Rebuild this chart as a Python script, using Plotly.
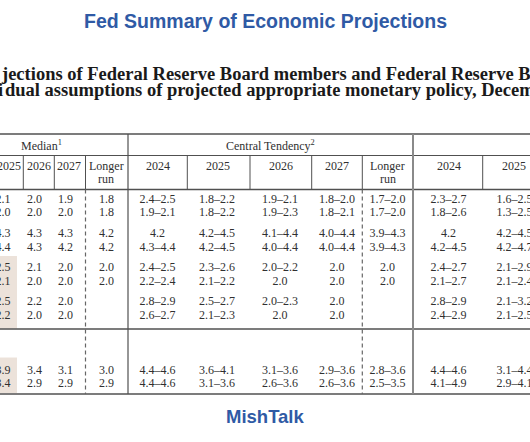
import plotly.graph_objects as go

# ---------------- data ----------------
title_text = "Fed Summary of Economic Projections"
subtitle_line1 = "jections of Federal Reserve Board members and Federal Reserve Bank presidents, under their"
subtitle_line2_pre = "indivi"
subtitle_line2 = "dual assumptions of projected appropriate monetary policy, December 2024"
watermark = "MishTalk"

group_labels = ["Median<sup>1</sup>", "Central Tendency<sup>2</sup>"]

median_years = ["2025", "2026", "2027", "Longer"]
ct_years = ["2024", "2025", "2026", "2027", "Longer"]
range_years = ["2024", "2025"]
header_line2 = ["", "", "", "run", "", "", "", "", "run", "", ""]

median_2025 = ["2.1", "2.0", "4.3", "4.4", "2.5", "2.1", "2.5", "2.2", "3.9", "3.4"]
median_2026 = ["2.0", "2.0", "4.3", "4.3", "2.1", "2.0", "2.2", "2.0", "3.4", "2.9"]
median_2027 = ["1.9", "2.0", "4.3", "4.2", "2.0", "2.0", "2.0", "2.0", "3.1", "2.9"]
median_lr = ["1.8", "1.8", "4.2", "4.2", "2.0", "2.0", "", "", "3.0", "2.9"]

ct_2024 = ["2.4–2.5", "1.9–2.1", "4.2", "4.3–4.4", "2.4–2.5", "2.2–2.4", "2.8–2.9", "2.6–2.7", "4.4–4.6", "4.4–4.6"]
ct_2025 = ["1.8–2.2", "1.8–2.2", "4.2–4.5", "4.2–4.5", "2.3–2.6", "2.1–2.2", "2.5–2.7", "2.1–2.3", "3.6–4.1", "3.1–3.6"]
ct_2026 = ["1.9–2.1", "1.9–2.3", "4.1–4.4", "4.0–4.4", "2.0–2.2", "2.0", "2.0–2.3", "2.0", "3.1–3.6", "2.6–3.6"]
ct_2027 = ["1.8–2.0", "1.8–2.1", "4.0–4.4", "4.0–4.4", "2.0", "2.0", "2.0", "2.0", "2.9–3.6", "2.6–3.6"]
ct_lr = ["1.7–2.0", "1.7–2.0", "3.9–4.3", "3.9–4.3", "2.0", "2.0", "", "", "2.8–3.6", "2.5–3.5"]

range_2024 = ["2.3–2.7", "1.8–2.6", "4.2", "4.2–4.5", "2.4–2.7", "2.1–2.7", "2.8–2.9", "2.4–2.9", "4.4–4.6", "4.1–4.9"]
range_2025 = ["1.6–2.5", "1.3–2.5", "4.2–4.5", "4.2–4.7", "2.1–2.9", "2.1–2.4", "2.1–3.2", "2.1–2.5", "3.1–4.4", "2.9–4.1"]

columns = [median_2025, median_2026, median_2027, median_lr,
           ct_2024, ct_2025, ct_2026, ct_2027, ct_lr,
           range_2024, range_2025]
headers = median_years + ct_years + range_years

# ---------------- layout (pixel-like coordinate system) ----------------
W, H = 530, 442
col_x = [3, 34.5, 65.5, 106.5, 157.5, 217, 280, 337, 387.5, 448.5, 514.5]
head_x = [9, 38.5, 68.5, 106, 158, 217.5, 281, 337, 387.5, 448.5, 514]
row_y = [199.5, 213, 234, 247.5, 268, 282, 302, 316, 370.7, 384]
group_x = [41.5, 270.5]
head_y1, head_y2 = 165.5, 179

LINE = "#505050"
TXT = "#303030"
SERIF = "Liberation Serif, Times New Roman, serif"
SANS = "Liberation Sans, Arial, sans-serif"
BLUE = "#2F5AA5"
HILITE = "#ECE2DA"

fig = go.Figure()

# body cells (empty cells are skipped)
for cx, vals in zip(col_x, columns):
    pts = [(y, v) for y, v in zip(row_y, vals) if v]
    fig.add_trace(go.Scatter(
        x=[cx] * len(pts), y=[p[0] for p in pts], text=[p[1] for p in pts], mode="text",
        textposition="middle center",
        textfont=dict(family=SERIF, size=12, color=TXT),
        hoverinfo="skip", showlegend=False, cliponaxis=False))

shapes = []
# highlighted median-2025 cells
shapes.append(dict(type="rect", xref="x", yref="y", x0=-5, x1=17, y0=256, y1=328.5,
                   fillcolor=HILITE, line=dict(width=0), layer="below"))
shapes.append(dict(type="rect", xref="x", yref="y", x0=-5, x1=17, y0=357.5, y1=393,
                   fillcolor=HILITE, line=dict(width=0), layer="below"))

def hline(y, w=1.3, color=LINE):
    shapes.append(dict(type="line", xref="x", yref="y", x0=-10, x1=W + 10, y0=y, y1=y,
                       line=dict(color=color, width=w)))

def vline(x, y0, y1, w=1.1, color=LINE, dash="solid"):
    shapes.append(dict(type="line", xref="x", yref="y", x0=x, x1=x, y0=y0, y1=y1,
                       line=dict(color=color, width=w, dash=dash)))

hline(134, 1.6)
hline(155.5, 1.0)
hline(189.5, 1.3)
hline(329, 1.3)
hline(394, 1.6)

vline(128, 134, 394, 1.2)
vline(413, 134, 394, 2.0, "#8a8a8a")
for xv in [23.3, 54.3, 85.5, 187.3, 250, 311.7, 362.3, 482.7]:
    vline(xv, 155.5, 189.5, 1.0)
for xv in [85.5, 362.3]:
    vline(xv, 189.5, 394, 1.2, "#666666", "4px,3px")

annotations = []
# column headers
for hx, h, h2 in zip(head_x, headers, header_line2):
    annotations.append(dict(x=hx, y=head_y1, xref="x", yref="y", text=h, showarrow=False,
                            xanchor="center", yanchor="middle", borderpad=0,
                            font=dict(family=SERIF, size=12, color=TXT)))
    if h2:
        annotations.append(dict(x=hx, y=head_y2, xref="x", yref="y", text=h2, showarrow=False,
                                xanchor="center", yanchor="middle", borderpad=0,
                                font=dict(family=SERIF, size=12, color=TXT)))
for gx, g in zip(group_x, group_labels):
    annotations.append(dict(x=gx, y=145, xref="x", yref="y", text=g, showarrow=False,
                            xanchor="center", yanchor="middle", borderpad=0,
                            font=dict(family=SERIF, size=12, color=TXT)))

# titles
annotations.append(dict(x=W / 2, y=20.5, xref="x", yref="y", text="<b>%s</b>" % title_text,
                        showarrow=False, xanchor="center", yanchor="middle",
                        font=dict(family=SANS, size=19.5, color=BLUE)))
annotations.append(dict(x=0, y=73.5, xref="x", yref="y", text="<b>%s</b>" % subtitle_line1,
                        showarrow=False, xanchor="left", yanchor="middle", borderpad=0,
                        font=dict(family=SERIF, size=18.5, color="#1a1a1a")))
annotations.append(dict(x=4, y=90, xref="x", yref="y", text="<b>%s</b>" % subtitle_line2,
                        showarrow=False, xanchor="left", yanchor="middle", borderpad=0,
                        font=dict(family=SERIF, size=18.5, color="#1a1a1a")))
annotations.append(dict(x=4, y=90, xref="x", yref="y", text="<b>%s</b>" % subtitle_line2_pre,
                        showarrow=False, xanchor="right", yanchor="middle", borderpad=0,
                        font=dict(family=SERIF, size=18.5, color="#1a1a1a")))
annotations.append(dict(x=W / 2, y=416, xref="x", yref="y", text="<b>%s</b>" % watermark,
                        showarrow=False, xanchor="center", yanchor="middle",
                        font=dict(family=SANS, size=18.5, color=BLUE)))

fig.update_layout(
    width=W, height=H, margin=dict(l=0, r=0, t=0, b=0),
    paper_bgcolor="white", plot_bgcolor="white",
    xaxis=dict(range=[0, W], visible=False, fixedrange=True),
    yaxis=dict(range=[H, 0], visible=False, fixedrange=True),
    shapes=shapes, annotations=annotations, showlegend=False,
)

fig.write_html(
    "out.html",
    config={"displayModeBar": False},
    post_script="document.body.style.margin='0';document.body.style.overflow='hidden';",
)
